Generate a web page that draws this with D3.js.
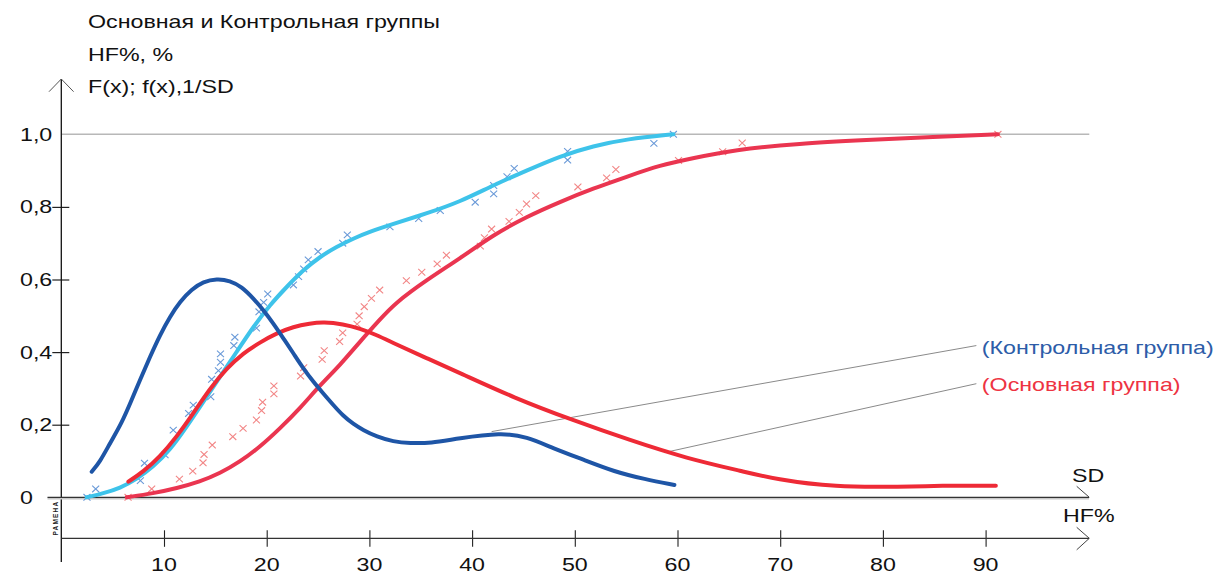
<!DOCTYPE html>
<html><head><meta charset="utf-8">
<script src="https://cdn.jsdelivr.net/npm/d3@7"></script>
<style>
html,body{margin:0;padding:0;background:#fff;}
svg text{font-family:"Liberation Sans",Arial,sans-serif;}
</style>
</head><body>
<svg id="c" width="1217" height="575"></svg>
<script>
// ---------- data ----------
const titleLines = ["Основная и Контрольная группы", "HF%, %", "F(x); f(x),1/SD"];
const xTicks = [10, 20, 30, 40, 50, 60, 70, 80, 90];
const yTicks = [0, 0.2, 0.4, 0.6, 0.8, 1.0];
const seriesNames = ["(Контрольная группа)", "(Основная группа)"];

// Control group: cumulative F(x) (light blue)
const ctrlFx = [2.47, 4.09, 5.7, 7.34, 8.96, 10.58, 12.2, 13.83, 15.45, 17.08, 18.7, 20.32, 21.95, 23.56, 25.19, 26.81, 28.43, 30.06, 32.0, 35.58, 38.82, 42.07, 45.3, 48.56, 51.8, 55.05, 59.6];
const ctrlFy = [0, 0.011, 0.025, 0.05, 0.084, 0.13, 0.194, 0.263, 0.332, 0.401, 0.47, 0.53, 0.58, 0.626, 0.663, 0.69, 0.713, 0.732, 0.75, 0.782, 0.814, 0.86, 0.90, 0.94, 0.968, 0.987, 1.0];
// Control group: density f(x) (dark blue)
const ctrlfx = [2.96, 3.77, 4.74, 5.88, 6.85, 7.66, 8.64, 9.61, 10.58, 11.56, 12.7, 13.83, 15.13, 16.43, 17.56, 18.7, 19.67, 20.64, 21.62, 22.59, 23.56, 24.54, 25.51, 26.49, 27.46, 28.43, 29.4, 30.71, 32.33, 33.95, 35.96, 38.6, 42.85, 45.3, 47.9, 50.9, 53.85, 56.8, 59.7];
const ctrlfy = [0.0705, 0.098, 0.149, 0.204, 0.268, 0.323, 0.387, 0.447, 0.4975, 0.539, 0.573, 0.594, 0.602, 0.597, 0.58, 0.548, 0.516, 0.479, 0.438, 0.397, 0.355, 0.318, 0.286, 0.254, 0.224, 0.202, 0.185, 0.167, 0.153, 0.149, 0.149, 0.162, 0.178, 0.167, 0.135, 0.103, 0.0705, 0.05, 0.034];
// Main group: cumulative F(x) (red)
const mainFx = [6.37, 8.96, 11.24, 13.5, 15.45, 17.4, 19.35, 21.3, 23.24, 25.19, 27.14, 29.08, 31.03, 32.5, 35.58, 38.82, 42.07, 45.3, 48.56, 51.8, 55.05, 58.3, 61.5, 65.4, 71.9, 78.4, 84.9, 91.2];
const mainFy = [0, 0.011, 0.025, 0.043, 0.066, 0.098, 0.139, 0.19, 0.245, 0.309, 0.364, 0.429, 0.49, 0.535, 0.599, 0.658, 0.723, 0.773, 0.814, 0.851, 0.883, 0.915, 0.934, 0.957, 0.975, 0.984, 0.993, 1.0];
// Main group: density f(x) (red)
const mainfx = [6.53, 7.98, 9.61, 11.24, 12.85, 14.48, 16.1, 17.72, 19.35, 20.97, 22.59, 24.22, 25.51, 27.46, 29.08, 30.71, 32.33, 35.58, 38.7, 44.16, 49.75, 55.3, 60.9, 66.5, 69.5, 75.3, 81.9, 85.5, 91];
const mainfy = [0.043, 0.0705, 0.112, 0.167, 0.231, 0.30, 0.355, 0.397, 0.427, 0.452, 0.47, 0.479, 0.483, 0.477, 0.465, 0.447, 0.425, 0.383, 0.344, 0.273, 0.213, 0.158, 0.107, 0.0705, 0.05, 0.0275, 0.029, 0.032, 0.032];

// Empirical points, control group
const ctrlPx = [2.5, 3.35, 7.7, 8.1, 10.1, 10.9, 12.4, 12.85, 14.55, 14.64, 15.3, 15.5, 15.5, 16.8, 16.9, 19.0, 19.25, 19.7, 20.1, 22.6, 23.1, 23.6, 24.05, 25.0, 27.4, 27.85, 32.0, 34.8, 36.9, 40.3, 42.1, 42.1, 43.4, 44.1, 49.3, 49.3, 57.7, 59.6];
const ctrlPy = [0, 0.023, 0.046, 0.094, 0.117, 0.185, 0.231, 0.254, 0.277, 0.325, 0.349, 0.372, 0.395, 0.418, 0.441, 0.466, 0.511, 0.537, 0.56, 0.585, 0.608, 0.629, 0.654, 0.677, 0.70, 0.723, 0.745, 0.768, 0.79, 0.813, 0.836, 0.859, 0.883, 0.906, 0.929, 0.953, 0.975, 1.0];
// Empirical points, main group
const mainPx = [6.5, 8.8, 11.5, 12.8, 13.8, 13.9, 14.7, 16.7, 17.7, 19.0, 19.5, 19.6, 20.7, 20.7, 23.3, 23.6, 25.4, 25.6, 27.1, 27.4, 28.8, 29.0, 29.5, 30.2, 31.0, 33.6, 35.1, 36.6, 37.5, 40.8, 41.2, 41.9, 43.6, 44.6, 45.3, 46.2, 50.3, 53.1, 54.0, 60.1, 64.4, 66.3, 91.2];
const mainPy = [0, 0.023, 0.05, 0.072, 0.095, 0.118, 0.144, 0.167, 0.19, 0.213, 0.239, 0.262, 0.285, 0.307, 0.334, 0.357, 0.38, 0.404, 0.429, 0.453, 0.477, 0.5, 0.525, 0.548, 0.571, 0.597, 0.62, 0.643, 0.667, 0.692, 0.715, 0.739, 0.76, 0.785, 0.808, 0.831, 0.855, 0.88, 0.903, 0.928, 0.952, 0.976, 1.0];

// label anchor (data units) and leader target on curve
const ctrlLabel = [89.1, 0.418], ctrlLeader = [41.9, 0.181];
const mainLabel = [89.1, 0.313], mainLeader = [58.7, 0.123];

// ---------- drawing ----------
const svg = d3.select("#c");
const x = d3.scaleLinear().domain([0, 100]).range([61.3, 1088.3]);
const y = d3.scaleLinear().domain([0, 1]).range([497.3, 134.3]);
const SX = 1.29; // horizontal stretch of the original picture
const FONT = 18;

function txt(s, px, py, opts = {}) {
  return svg.append("text")
    .attr("transform", `translate(${px},${py}) scale(${SX},1)`)
    .attr("font-size", opts.size || FONT)
    .attr("text-anchor", opts.anchor || "start")
    .attr("fill", opts.fill || "#111")
    .text(s);
}

// titles
titleLines.forEach((t, i) => txt(t, 88, [28, 61, 93][i]));

// gridline at 1.0
svg.append("line").attr("x1", x(0)).attr("x2", x(100) + 1).attr("y1", y(1)).attr("y2", y(1))
  .attr("stroke", "#b8b8b8").attr("stroke-width", 1.5);

// y axis
const yAxisG = svg.append("g").attr("transform", `translate(${x(0)},0)`)
  .call(d3.axisLeft(y).tickValues(yTicks.filter(v => v > 0 && v < 1)).tickSize(9).tickFormat(""));
yAxisG.select(".domain").remove();
yAxisG.selectAll(".tick line").attr("x1", -9).attr("x2", 8).attr("stroke", "#222").attr("stroke-width", 1.2);
svg.append("line").attr("x1", x(0)).attr("x2", x(0)).attr("y1", 79).attr("y2", 562)
  .attr("stroke", "#111").attr("stroke-width", 1.3);
svg.append("path").attr("d", `M${x(0) - 12.3},91.7 L${x(0)},79 L${x(0) + 12.3},91.7`)
  .attr("fill", "none").attr("stroke", "#555").attr("stroke-width", 1);
yTicks.forEach(v => {
  const lab = v === 0 ? "0" : d3.format(".1f")(v).replace(".", ",");
  txt(lab, 20, y(v) + 6.5);
});

// zero / SD axis
svg.append("line").attr("x1", 47.5).attr("x2", 1089).attr("y1", y(0) + 1.2).attr("y2", y(0) + 1.2)
  .attr("stroke", "#c8c8c8").attr("stroke-width", 2);
svg.append("line").attr("x1", 47.5).attr("x2", 1089).attr("y1", y(0)).attr("y2", y(0))
  .attr("stroke", "#333").attr("stroke-width", 1.2);
svg.append("path").attr("d", `M1076.7,${y(0) - 11} L1089.3,${y(0)}`)
  .attr("fill", "none").attr("stroke", "#444").attr("stroke-width", 1);
txt("SD", 1072, 482);

// HF% axis
const hfY = 538.3;
const xAxisG = svg.append("g").attr("transform", `translate(0,${hfY})`)
  .call(d3.axisBottom(x).tickValues(xTicks).tickSize(8).tickFormat(""));
xAxisG.select(".domain").remove();
xAxisG.selectAll(".tick line").attr("y1", -8).attr("y2", 8.5).attr("stroke", "#222").attr("stroke-width", 1.1);
svg.append("line").attr("x1", x(0)).attr("x2", 1089).attr("y1", hfY).attr("y2", hfY)
  .attr("stroke", "#333").attr("stroke-width", 1.2);
svg.append("path").attr("d", `M1076.7,${hfY - 11} L1089.3,${hfY} L1076.7,${hfY + 11.5}`)
  .attr("fill", "none").attr("stroke", "#444").attr("stroke-width", 1);
xTicks.forEach(v => txt(String(v), x(v), 571, { anchor: "middle" }));
txt("HF%", 1063, 521.7);

// tiny watermark
svg.append("text").attr("transform", "translate(57.8,518) rotate(-90)")
  .attr("text-anchor", "middle").attr("font-size", 6.5).attr("font-weight", "bold")
  .attr("letter-spacing", 1.2).attr("fill", "#222").text("РАМЕНА");

// leader lines
[[ctrlLeader, ctrlLabel], [mainLeader, mainLabel]].forEach(([a, b]) => {
  svg.append("line").attr("x1", x(a[0])).attr("y1", y(a[1])).attr("x2", x(b[0])).attr("y2", y(b[1]))
    .attr("stroke", "#8a8a8a").attr("stroke-width", 1);
});

// scatter markers
function marks(xs, ys, color) {
  const g = svg.append("g").attr("stroke", color).attr("stroke-width", 1.1).attr("fill", "none");
  xs.forEach((vx, i) => {
    const cx = x(vx), cy = y(ys[i]);
    g.append("path").attr("d", `M${cx - 3.5},${cy - 3.3} L${cx + 3.5},${cy + 3.3} M${cx - 3.5},${cy + 3.3} L${cx + 3.5},${cy - 3.3}`);
  });
}
marks(ctrlPx, ctrlPy, "#6a9ad8");
marks(mainPx, mainPy, "#f28686");

// curves
const line = d3.line().x(d => x(d[0])).y(d => y(d[1])).curve(d3.curveBasis);
function curve(xs, ys, color, w) {
  svg.append("path").datum(xs.map((v, i) => [v, ys[i]])).attr("d", line)
    .attr("fill", "none").attr("stroke", color).attr("stroke-width", w)
    .attr("stroke-linecap", "round").attr("stroke-linejoin", "round");
}
curve(ctrlFx, ctrlFy, "#3ec3ea", 4);
curve(mainFx, mainFy, "#ea3550", 4);
curve(mainfx, mainfy, "#ee2a36", 4);
curve(ctrlfx, ctrlfy, "#1e55a6", 4);

// series labels
txt(seriesNames[0], x(ctrlLabel[0]) + 5.5, 353.5, { fill: "#2d5ca8" });
txt(seriesNames[1], x(mainLabel[0]) + 5.5, 391, { fill: "#ee3342" });
</script>
</body></html>
